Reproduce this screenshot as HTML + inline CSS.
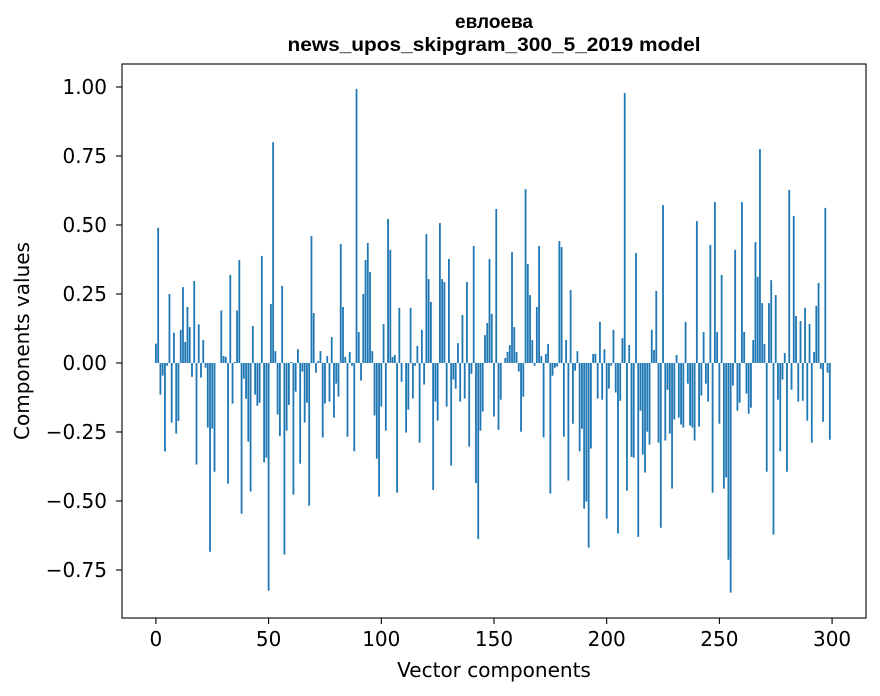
<!DOCTYPE html>
<html><head><meta charset="utf-8"><style>
html,body{margin:0;padding:0;background:#fff;}
svg{display:block;}
</style></head><body>
<svg id="chart" width="880" height="696" xmlns="http://www.w3.org/2000/svg">
<rect x="0" y="0" width="880" height="696" fill="#fff"/>
<g id="titles" font-family="'Liberation Sans', Arial, sans-serif" font-weight="bold" font-size="19" text-anchor="middle" fill="#000">
<text x="494" y="28">евлоева</text>
<text x="494" y="51" textLength="413" lengthAdjust="spacingAndGlyphs">news_upos_skipgram_300_5_2019 model</text>
</g>
<g id="bars"></g>
<g id="axes"></g>
<text x="494" y="677" font-family="'DejaVu Sans', sans-serif" font-size="20" text-anchor="middle" fill="#000">Vector components</text>
<text transform="translate(29,341) rotate(-90)" font-family="'DejaVu Sans', sans-serif" font-size="20" text-anchor="middle" fill="#000">Components values</text>
</svg>
<script>
const values = [
0.07,0.49,-0.115,-0.046,-0.32,-0.01,0.25,-0.216,0.11,-0.256,
-0.21,0.12,0.275,0.076,0.203,0.13,-0.05,0.297,-0.368,0.14,
-0.053,0.083,-0.017,-0.234,-0.684,-0.238,-0.394,0.0,0.0,0.19,
0.025,0.022,-0.437,0.319,-0.147,0.004,0.19,0.373,-0.546,-0.057,
-0.13,-0.285,-0.466,0.134,-0.115,-0.155,-0.144,0.388,-0.36,-0.343,
-0.825,0.214,0.80,0.043,-0.187,-0.265,0.279,-0.694,-0.245,-0.152,
0.004,-0.477,-0.104,0.05,-0.365,-0.031,-0.216,-0.144,-0.517,0.46,
0.181,-0.035,0.007,0.043,-0.27,-0.147,0.025,-0.14,0.094,-0.198,
-0.075,-0.122,0.431,0.203,0.022,-0.267,0.04,-0.01,-0.32,0.993,
0.112,-0.064,0.25,0.373,0.435,0.33,0.043,-0.19,-0.347,-0.484,
-0.158,0.141,-0.245,0.522,0.41,0.022,0.029,-0.47,0.2,-0.068,
0.0,-0.252,-0.169,0.2,-0.129,-0.01,0.062,-0.289,0.12,-0.078,
0.467,0.304,0.221,-0.46,-0.14,-0.209,0.507,0.304,0.293,-0.158,
0.377,-0.372,-0.06,-0.093,0.072,-0.14,0.174,-0.129,0.293,-0.303,
-0.039,0.424,-0.435,-0.638,-0.245,-0.176,0.101,0.145,0.377,0.178,
-0.194,0.558,-0.242,-0.133,0.0,0.018,0.04,0.065,0.402,0.13,
0.04,-0.031,-0.249,-0.122,0.63,0.359,0.246,0.083,-0.01,0.203,
0.424,0.025,-0.27,0.033,0.069,-0.473,-0.046,-0.017,-0.013,0.442,
0.42,-0.267,0.083,-0.426,0.264,-0.22,-0.028,0.043,-0.32,-0.238,
-0.528,-0.502,-0.669,-0.31,0.033,0.033,-0.129,0.149,-0.133,0.05,
-0.564,-0.093,-0.01,0.12,-0.107,-0.618,-0.137,0.09,0.978,-0.463,
0.065,-0.34,-0.343,0.398,-0.63,-0.173,-0.332,-0.397,-0.249,-0.296,
0.12,0.047,0.261,-0.289,-0.597,0.572,-0.281,-0.097,-0.256,-0.455,
-0.205,0.029,-0.198,-0.223,-0.234,0.149,-0.075,-0.227,-0.234,-0.281,
0.514,-0.231,-0.118,0.112,-0.075,-0.14,0.428,-0.47,0.583,0.112,
-0.22,0.319,-0.455,-0.415,-0.713,-0.832,-0.082,0.41,-0.173,-0.144,
0.583,0.112,-0.111,-0.184,-0.162,0.083,0.438,0.312,0.775,0.217,
0.069,-0.394,0.217,0.3,-0.622,0.246,-0.133,-0.32,-0.06,0.036,
-0.394,0.627,-0.097,0.533,0.17,-0.14,0.152,-0.137,0.2,-0.209,
0.141,-0.289,0.04,0.207,0.29,-0.021,-0.213,0.562,-0.035,-0.278
];
const xTicks = [0,50,100,150,200,250,300];
const yTicks = [-0.75,-0.5,-0.25,0,0.25,0.5,0.75,1.0];
const yTickLabels = ["\u22120.75","\u22120.50","\u22120.25","0.00","0.25","0.50","0.75","1.00"];

const NS = "http://www.w3.org/2000/svg";
const L = 122, R = 866, T = 64, B = 618;
const xMin = -15.05, xMax = 315.05, yMin = -0.924, yMax = 1.0833;
const xs = v => L + (v - xMin) / (xMax - xMin) * (R - L);
const ys = v => B - (v - yMin) / (yMax - yMin) * (B - T);
const barW = 0.8;

const barsG = document.getElementById('bars');
values.forEach((v, i) => {
  const r = document.createElementNS(NS, 'rect');
  const x0 = xs(i - barW / 2), x1 = xs(i + barW / 2);
  const y0 = ys(Math.max(v, 0)), y1 = ys(Math.min(v, 0));
  r.setAttribute('x', x0);
  r.setAttribute('width', x1 - x0);
  r.setAttribute('y', y0);
  r.setAttribute('height', Math.max(y1 - y0, 0));
  r.setAttribute('fill', '#1f77b4');
  
  
  barsG.appendChild(r);
});

const axesG = document.getElementById('axes');
const frame = document.createElementNS(NS, 'rect');
frame.setAttribute('x', L); frame.setAttribute('y', T);
frame.setAttribute('width', R - L); frame.setAttribute('height', B - T);
frame.setAttribute('fill', 'none'); frame.setAttribute('stroke', '#000'); frame.setAttribute('stroke-width', '1.1');


axesG.appendChild(frame);

xTicks.forEach(t => {
  const x = xs(t);
  const ln = document.createElementNS(NS, 'line');
  ln.setAttribute('x1', x); ln.setAttribute('x2', x);
  ln.setAttribute('y1', B); ln.setAttribute('y2', B + 6);
  ln.setAttribute('stroke', '#000'); ln.setAttribute('stroke-width', '1.1');
  
  
  axesG.appendChild(ln);
  const tx = document.createElementNS(NS, 'text');
  tx.setAttribute('x', x); tx.setAttribute('y', B + 28);
  tx.setAttribute('text-anchor', 'middle');
  tx.setAttribute('font-family', "'DejaVu Sans', sans-serif");
  tx.setAttribute('font-size', '20');
  tx.textContent = String(t);
  
  
  axesG.appendChild(tx);
});

yTicks.forEach((t, i) => {
  const y = ys(t);
  const ln = document.createElementNS(NS, 'line');
  ln.setAttribute('x1', L - 6); ln.setAttribute('x2', L);
  ln.setAttribute('y1', y); ln.setAttribute('y2', y);
  ln.setAttribute('stroke', '#000'); ln.setAttribute('stroke-width', '1.1');
  
  
  axesG.appendChild(ln);
  const tx = document.createElementNS(NS, 'text');
  tx.setAttribute('x', L - 15); tx.setAttribute('y', y + 7);
  tx.setAttribute('text-anchor', 'end');
  tx.setAttribute('font-family', "'DejaVu Sans', sans-serif");
  tx.setAttribute('font-size', '20');
  tx.textContent = yTickLabels[i];
  
  
  axesG.appendChild(tx);
});
</script>
</body></html>
